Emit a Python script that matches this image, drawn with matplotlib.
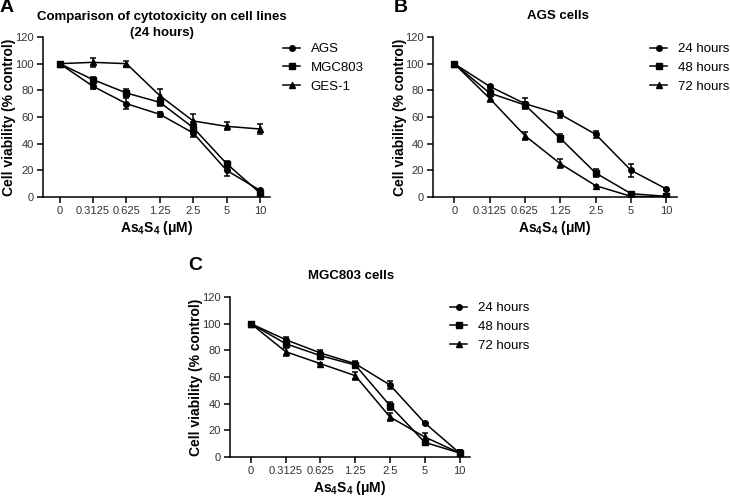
import numpy as np
import matplotlib.pyplot as plt
from matplotlib.lines import Line2D

plt.rcParams['font.family'] = ['Liberation Sans', 'DejaVu Sans']
plt.rcParams['mathtext.fontset'] = 'custom'
plt.rcParams['mathtext.bf'] = 'Liberation Sans:bold'
plt.rcParams['mathtext.rm'] = 'Liberation Sans'

W, H = 730, 496

# x categories (As4S4 concentration, uM)
conc = ['0', '0.3125', '0.625', '1.25', '2.5', '5', '10']

# panel A: 24 hours, three cell lines
ags_24 = [100, 83, 70, 62, 48, 20, 5]
ags_24_err = [0.5, 2, 4, 2, 3, 4, 1]
mgc_24 = [100, 88, 78, 71, 52, 25, 3]
mgc_24_err = [0.5, 2, 3, 3, 4, 2, 2]
ges_24 = [100, 101, 100, 76, 57, 53, 51]
ges_24_err = [0.5, 3.5, 2, 5, 5, 3, 3.5]

# panel B: AGS cells
agsB_24 = [100, 83, 70, 62, 47, 20, 6]
agsB_24_err = [0.5, 1, 4, 2.5, 2.5, 5, 0.5]
agsB_48 = [100, 78, 69, 44, 18, 2.5, 0.5]
agsB_48_err = [0.5, 2, 2, 3, 3, 1, 0.5]
agsB_72 = [100, 74, 46, 25, 8.5, 0.5, 0]
agsB_72_err = [0.5, 3, 3, 3.5, 0.5, 0.5, 0.5]

# panel C: MGC803 cells
mgcC_24 = [100, 88, 78, 70, 54, 25.5, 3]
mgcC_24_err = [0.5, 2, 2, 2, 3, 0.5, 2]
mgcC_48 = [100, 85, 76, 69, 38.5, 11, 3]
mgcC_48_err = [0.5, 2, 2, 2, 3, 2, 2]
mgcC_72 = [100, 79, 70, 61, 30, 15, 3]
mgcC_72_err = [0.5, 3, 0.5, 3, 3, 3, 2]

markers = ['o', 's', '^']
LW = 1.1


def px(x, y):
    # pixel position (from top-left) -> figure fraction
    return x / W, 1 - y / H


def panel(fig, rect, series, errs, labels, xpad, ylab_x, leg_xy):
    l, t, r, b = rect
    ax = fig.add_axes([l / W, 1 - b / H, (r - l) / W, (b - t) / H])
    x = np.arange(len(conc))
    for y, e, m in zip(series, errs, markers):
        ax.errorbar(x, y, yerr=e, color='black', lw=LW, marker=m, ms=4,
                    capsize=2.5, capthick=LW, elinewidth=LW)
    ax.set_ylim(0, 120)
    ax.set_yticks(range(0, 121, 20))
    ax.set_xlim(-xpad, 6.3)
    ax.set_xticks(x)
    ax.set_xticklabels(conc)
    for s in ['top', 'right']:
        ax.spines[s].set_visible(False)
    for s in ['left', 'bottom']:
        ax.spines[s].set_linewidth(LW)
    ax.tick_params(axis='both', direction='out', length=4, width=LW,
                   labelsize=8, colors='black', labelcolor='#333333', pad=2.5)
    ax.set_ylabel('Cell viability (% control)', fontsize=10, fontweight='bold')
    ax.yaxis.set_label_coords((ylab_x - l) / (r - l), 0.5)
    ax.set_xlabel(r'As$_\mathbf{4}$S$_\mathbf{4}$ (μM)', fontsize=10,
                  fontweight='bold', labelpad=2)
    handles = [Line2D([], [], color='black', lw=LW, marker=m, ms=4)
               for m in markers]
    fig.legend(handles, labels, loc='upper left', bbox_to_anchor=px(*leg_xy),
               bbox_transform=fig.transFigure, frameon=False, fontsize=9.5,
               handlelength=1.3, handletextpad=0.8, labelspacing=0.5,
               borderpad=0, borderaxespad=0)
    return ax


fig = plt.figure(figsize=(7.3, 4.96), dpi=100)

panel(fig, (43, 37, 270, 197), [ags_24, mgc_24, ges_24],
      [ags_24_err, mgc_24_err, ges_24_err], ['AGS', 'MGC803', 'GES-1'],
      0.5, 16, (283, 43))
panel(fig, (433, 37, 677, 197), [agsB_24, agsB_48, agsB_72],
      [agsB_24_err, agsB_48_err, agsB_72_err],
      ['24 hours', '48 hours', '72 hours'], 0.6, 407, (650, 43))
panel(fig, (230, 297, 470, 457), [mgcC_24, mgcC_48, mgcC_72],
      [mgcC_24_err, mgcC_48_err, mgcC_72_err],
      ['24 hours', '48 hours', '72 hours'], 0.6, 203, (450, 302))

# titles
fig.text(*px(162, 17), 'Comparison of cytotoxicity on cell lines',
         ha='center', va='center', fontsize=9.5, fontweight='bold')
fig.text(*px(162, 33), '(24 hours)', ha='center', va='center',
         fontsize=9.5, fontweight='bold')
fig.text(*px(558, 16), 'AGS cells', ha='center', va='center',
         fontsize=9.5, fontweight='bold')
fig.text(*px(351, 276), 'MGC803 cells', ha='center', va='center',
         fontsize=9.5, fontweight='bold')

# panel letters
fig.text(*px(7, 7), 'A', ha='center', va='center', fontsize=14, fontweight='bold')
fig.text(*px(401, 7), 'B', ha='center', va='center', fontsize=14, fontweight='bold')
fig.text(*px(195, 265), 'C', ha='center', va='center', fontsize=14, fontweight='bold')

fig.savefig('out.png', dpi=100)
